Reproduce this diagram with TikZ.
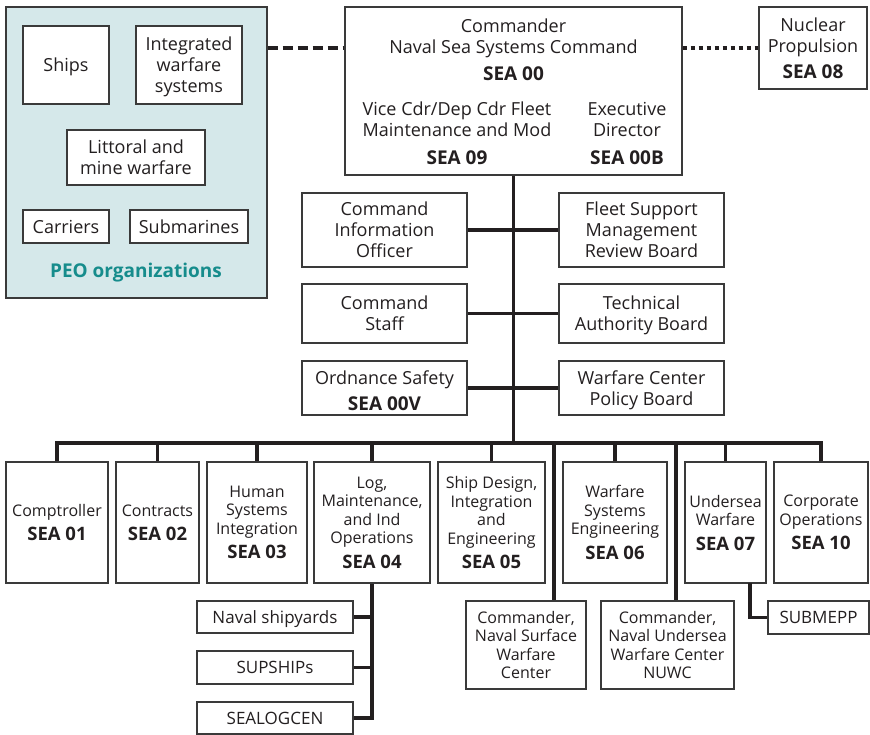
\documentclass[tikz,border=0pt]{standalone}
\usepackage{fontspec}
\setmainfont{Open Sans}
\definecolor{boxc}{HTML}{3A3A3A}
\definecolor{linec}{HTML}{231F20}
\definecolor{txtc}{HTML}{231F20}
\definecolor{peofill}{HTML}{D5E8EA}
\definecolor{peoteal}{HTML}{168C8C}
\newcommand\SEAtxt[1]{{\bfseries\fontsize{19}{21}\selectfont #1}}
\newcommand\SEAsm[1]{{\bfseries\fontsize{18.5}{21}\selectfont #1}}
\begin{document}
\begin{tikzpicture}[x=1pt,y=-1pt,
  box/.style={draw=boxc, line width=1.3pt, fill=white, align=center, inner sep=0pt, text=txtc, text depth=0pt},
  big/.style={font=\fontsize{18}{21}\selectfont},
  mid/.style={font=\fontsize{17}{20}\selectfont},
  small/.style={font=\fontsize{16}{18.5}\selectfont},
  lbl/.style={text=txtc, align=center, inner sep=0pt},
  conn/.style={draw=linec, line width=3.6pt, line join=miter},
  dashconn/.style={draw=linec, line width=3.6pt, dash pattern=on 10pt off 5pt},
  dotconn/.style={draw=linec, line width=3.6pt, dash pattern=on 4.5pt off 3.5pt}]
\useasboundingbox (0,0) rectangle (870,734);
\fill[white] (0,0) rectangle (870,734);

% PEO organizations
\node[draw=boxc, line width=1.3pt, fill=peofill, inner sep=0pt, minimum width=261pt, minimum height=291pt] (peo) at (136.5,152.5) {};
\node[box, big, minimum width=86pt, minimum height=78pt] (ships) at (66,65) {Ships};
\node[box, big, minimum width=106pt, minimum height=78pt] (iws) at (189,65) {Integrated\\warfare\\systems};
\node[box, big, minimum width=138pt, minimum height=55pt] (litt) at (136,157.5) {Littoral and\\mine warfare};
\node[box, big, minimum width=86pt, minimum height=33pt] (carr) at (66,226.5) {Carriers};
\node[box, big, minimum width=118pt, minimum height=33pt] (subm) at (189,226.5) {Submarines};
\node[inner sep=0pt, text=peoteal, font=\bfseries\fontsize{19}{21}\selectfont] (peolbl) at (136,273) {PEO organizations};

% Commander
\node[box, minimum width=337pt, minimum height=168pt] (cmd) at (513.5,91) {};
\node[lbl, big] (cmdA) at (513.5,50) {Commander\\Naval Sea Systems Command\\[6pt]\SEAtxt{SEA 00}};
\node[lbl, big] (vice) at (457,133) {Vice Cdr/Dep Cdr Fleet\\Maintenance and Mod\\[7pt]\SEAtxt{SEA 09}};
\node[lbl, big] (exec) at (627,133) {Executive\\Director\\[7pt]\SEAtxt{SEA 00B}};

% Nuclear propulsion
\node[box, big, minimum width=108pt, minimum height=82pt] (nuc) at (813,48) {Nuclear\\Propulsion\\[5pt]\SEAtxt{SEA 08}};

\coordinate (dashy) at (0,48);
\draw[dashconn] (peo.east |- dashy) -- (cmd.west |- dashy);
\draw[dotconn] (cmd.east |- nuc.west) -- (nuc.west);

% middle boxes
\node[box, big, minimum width=165pt, minimum height=74pt] (ml1) at (384.5,230) {Command\\Information\\Officer};
\node[box, big, minimum width=165pt, minimum height=74pt] (mr1) at (641.5,230) {Fleet Support\\Management\\Review Board};
\node[box, big, minimum width=165pt, minimum height=59pt] (ml2) at (384.5,313.5) {Command\\Staff};
\node[box, big, minimum width=165pt, minimum height=59pt] (mr2) at (641.5,313.5) {Technical\\Authority Board};
\node[box, big, minimum width=165pt, minimum height=54pt] (ml3) at (384.5,388) {\rule{0pt}{18pt}Ordnance Safety\\[5pt]\SEAtxt{SEA 00V}};
\node[box, big, minimum width=165pt, minimum height=54pt] (mr3) at (641.5,388) {Warfare Center\\Policy Board};

% bottom row
\node[box, small, minimum width=102pt, minimum height=121pt] (comp) at (57,522.5) {Comptroller\\[6pt]\SEAsm{SEA 01}};
\node[box, small, minimum width=83pt, minimum height=121pt] (contr) at (157.5,522.5) {Contracts\\[6pt]\SEAsm{SEA 02}};
\node[box, small, minimum width=100pt, minimum height=121pt] (hsi) at (257,522.5) {Human\\Systems\\Integration\\[6pt]\SEAsm{SEA 03}};
\node[box, small, minimum width=116pt, minimum height=121pt] (log) at (372,522.5) {Log,\\Maintenance,\\and Ind\\Operations\\[6pt]\SEAsm{SEA 04}};
\node[box, small, minimum width=107pt, minimum height=121pt] (sdi) at (491.5,522.5) {Ship Design,\\Integration\\and\\Engineering\\[6pt]\SEAsm{SEA 05}};
\node[box, small, minimum width=104pt, minimum height=121pt] (wse) at (615,522.5) {Warfare\\Systems\\Engineering\\[6pt]\SEAsm{SEA 06}};
\node[box, small, minimum width=81pt, minimum height=121pt] (usw) at (725.5,522.5) {Undersea\\Warfare\\[6pt]\SEAsm{SEA 07}};
\node[box, small, minimum width=94pt, minimum height=121pt] (corp) at (821,522.5) {Corporate\\Operations\\[6pt]\SEAsm{SEA 10}};

% sub boxes
\node[box, mid, minimum width=156pt, minimum height=32pt] (nsy) at (275,617) {Naval shipyards};
\node[box, mid, minimum width=156pt, minimum height=33pt] (sup) at (275,667.5) {SUPSHIPs};
\node[box, mid, minimum width=156pt, minimum height=32pt] (slc) at (275,718) {SEALOGCEN};
\node[box, small, minimum width=120pt, minimum height=88pt] (nswc) at (526,645) {Commander,\\Naval Surface\\Warfare\\Center};
\node[box, small, minimum width=133pt, minimum height=88pt] (nuwc) at (667.5,645) {Commander,\\Naval Undersea\\Warfare Center\\NUWC};
\node[box, mid, minimum width=101pt, minimum height=33pt] (smepp) at (818.5,617.5) {SUBMEPP};

% connectors
\coordinate (bus) at (0,443);
\draw[conn] (cmd.south) -- (cmd.south |- bus);
\draw[conn] (ml1.east) -- (mr1.west);
\draw[conn] (ml2.east) -- (mr2.west);
\draw[conn] (ml3.east) -- (mr3.west);
\draw[conn] (comp.north) -- (comp.north |- bus) -- (corp.north |- bus) -- (corp.north);
\foreach \n in {contr,hsi,log,sdi,wse,usw} \draw[conn] (\n.north |- bus) -- (\n.north);
\coordinate (v1) at (554,443);
\coordinate (v2) at (676,443);
\draw[conn] (v1) -- (v1 |- nswc.north);
\draw[conn] (v2) -- (v2 |- nuwc.north);
\draw[conn] (log.south) -- (log.south |- slc.east) -- (slc.east);
\draw[conn] (nsy.east) -- (nsy.east -| log.south);
\draw[conn] (sup.east) -- (sup.east -| log.south);
\coordinate (subj) at (750,583);
\draw[conn] (subj) |- (smepp.west);
\end{tikzpicture}
\end{document}
